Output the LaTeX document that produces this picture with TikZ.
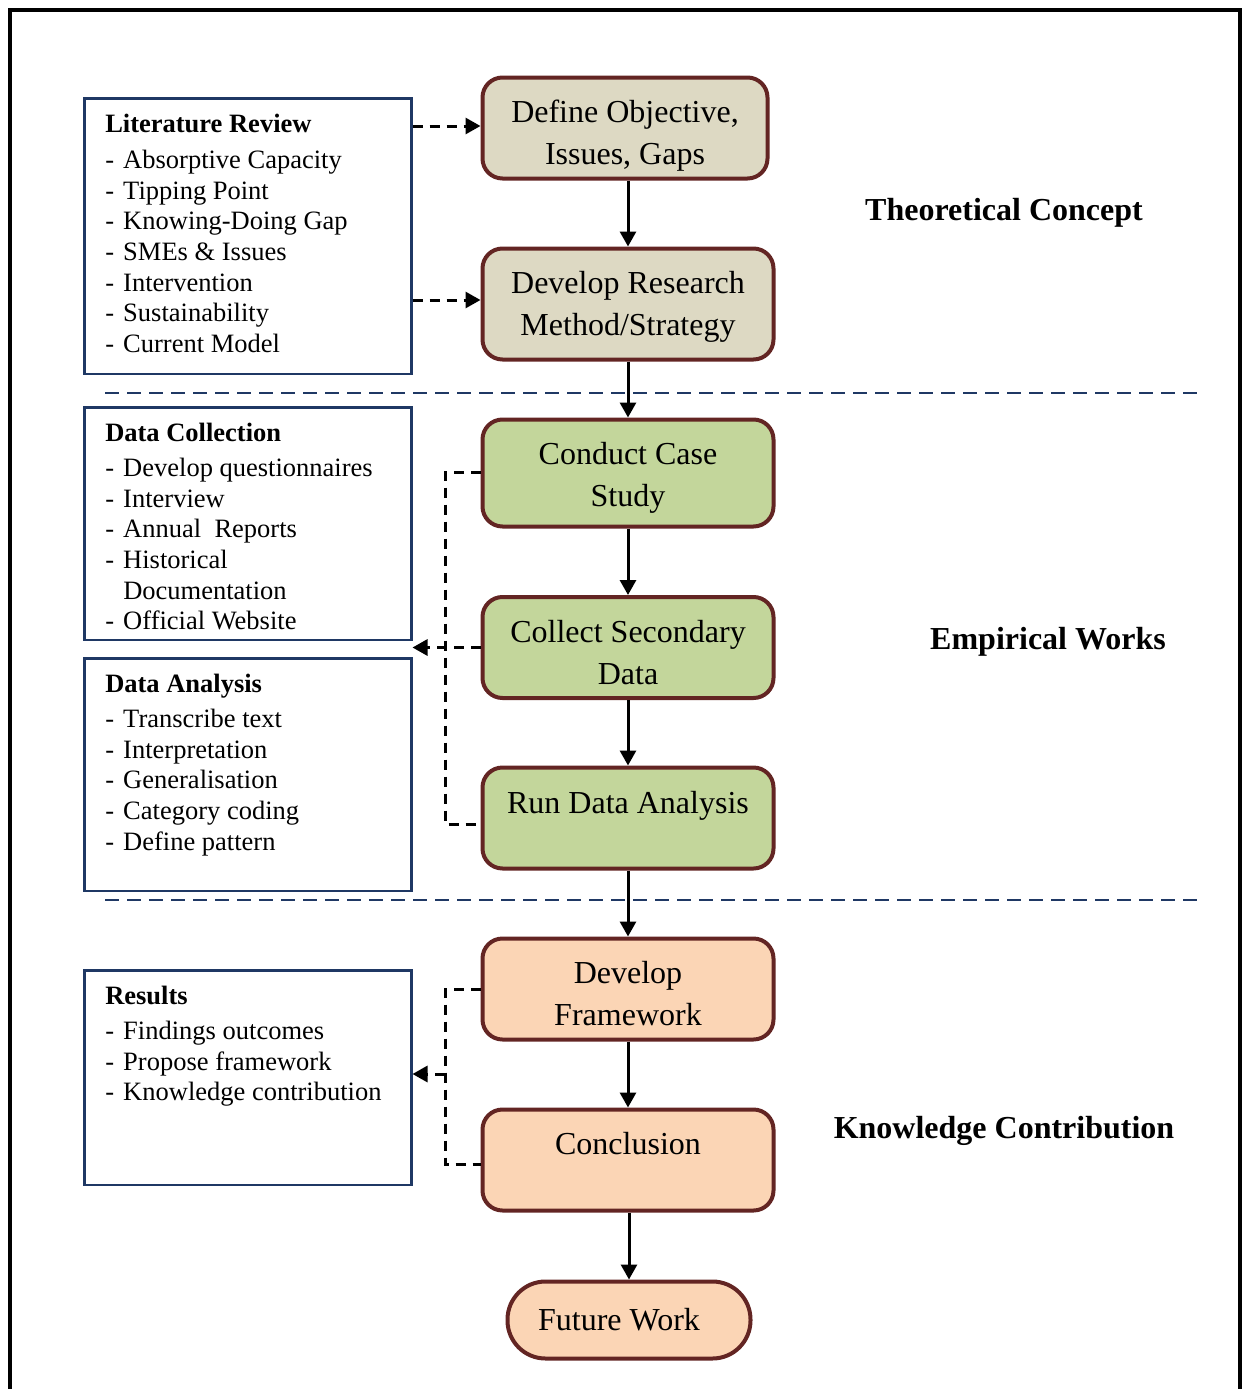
\documentclass[tikz,border=0pt]{standalone}
\usepackage{fontspec}
\setmainfont{Liberation Serif}
\usetikzlibrary{arrows.meta}
\definecolor{flowred}{HTML}{632523}
\definecolor{tanfill}{HTML}{DDD9C3}
\definecolor{greenfill}{HTML}{C3D69B}
\definecolor{peachfill}{HTML}{FBD5B5}
\definecolor{navy}{HTML}{1F3864}
% one bulleted line of a list box: dash, then the entry
\newcommand\dashitem[1]{\makebox[18pt][l]{-}#1}
% list box body: fixed size, top aligned
\newcommand\listbody[3]{\parbox[c][#1][t]{#2}{\raggedright\vspace*{16pt}#3}}
% invisible strut that sets the head room of a first line
\newcommand\headroom[1]{\rule{0pt}{#1}}

\begin{document}
\begin{tikzpicture}[x=1pt,y=-1pt,
  flow/.style={draw=flowred, line width=4pt, rounded corners=20pt, align=center,
    inner sep=0pt, font=\fontsize{32}{42}\selectfont,
    minimum width=291pt, minimum height=101pt},
  listbox/.style={draw=navy, line width=2.5pt, anchor=north west,
    inner xsep=21pt, inner ysep=0pt, font=\fontsize{26.5}{30.7}\selectfont},
  flowarrow/.style={line width=3pt, -{Triangle[length=15pt,width=16pt]}},
  linkarrow/.style={line width=3pt, dash pattern=on 10pt off 7pt,
    -{Triangle[length=15pt,width=16pt]}},
  linkline/.style={line width=3pt, dash pattern=on 10pt off 7pt},
  divider/.style={draw=navy, line width=2.5pt, dash pattern=on 14pt off 8pt},
  phase/.style={font=\fontsize{32}{38}\selectfont\bfseries}]

\useasboundingbox (0,0) rectangle (1252,1389);

% frame, open at the bottom
\draw[line width=4pt] (10,1392) -- (10,10) -- (1240,10) -- (1240,1392);

% main flow
\node[flow, fill=tanfill, minimum width=285pt] (n1) at (625,128)
  {\headroom{38pt}Define Objective,\\Issues, Gaps};
\node[flow, fill=tanfill, minimum height=111pt] (n2) at (628,304)
  {\headroom{28pt}Develop Research\\Method/Strategy};
\node[flow, fill=greenfill, minimum height=107pt] (n3) at (628,473)
  {\headroom{32pt}Conduct Case\\Study};
\node[flow, fill=greenfill] (n4) at (628,647.5)
  {\headroom{32pt}Collect Secondary\\Data};
\node[flow, fill=greenfill] (n5) at (628,818)
  {\headroom{46pt}Run Data Analysis\\\strut};
\node[flow, fill=peachfill] (n6) at (628,989)
  {\headroom{32pt}Develop\\Framework};
\node[flow, fill=peachfill] (n7) at (628,1160)
  {\headroom{44pt}Conclusion\\\strut};
\node[flow, fill=peachfill, rounded corners=38pt, minimum width=243pt,
  minimum height=77pt] (n8) at (629,1320) {Future Work\hspace*{20pt}};

\draw[flowarrow] (n1.south -| n2) -- (n2.north);
\draw[flowarrow] (n2) -- (n3);
\draw[flowarrow] (n3) -- (n4);
\draw[flowarrow] (n4) -- (n5);
\draw[flowarrow] (n5) -- (n6);
\draw[flowarrow] (n6) -- (n7);
\draw[flowarrow] (n7.south -| n8) -- (n8.north);

% list boxes
\node[listbox] (lit) at (83,97) {\listbody{275.5pt}{285pt}{%
  \textbf{Literature Review}\\[5pt]
  \dashitem{Absorptive Capacity}\\
  \dashitem{Tipping Point}\\
  \dashitem{Knowing-Doing Gap}\\
  \dashitem{SMEs \& Issues}\\
  \dashitem{Intervention}\\
  \dashitem{Sustainability}\\
  \dashitem{Current Model}}};
\node[listbox] (dc) at (83,406) {\listbody{232.5pt}{285pt}{%
  \textbf{Data Collection}\\[4pt]
  \dashitem{Develop questionnaires}\\
  \dashitem{Interview}\\
  \dashitem{Annual\ \ Reports}\\
  \dashitem{Historical}\\
  \hspace*{18pt}Documentation\\
  \dashitem{Official Website}}};
\node[listbox] (da) at (83,657) {\listbody{232.5pt}{285pt}{%
  \textbf{Data Analysis}\\[4pt]
  \dashitem{Transcribe text}\\
  \dashitem{Interpretation}\\
  \dashitem{Generalisation}\\
  \dashitem{Category coding}\\
  \dashitem{Define pattern}}};
\node[listbox] (res) at (83,969) {\listbody{214.5pt}{285pt}{%
  \textbf{Results}\\[4pt]
  \dashitem{Findings outcomes}\\
  \dashitem{Propose framework}\\
  \dashitem{Knowledge contribution}}};

% links between list boxes and the flow
\draw[linkarrow] (lit.east |- 0,126) -- (n1.west |- 0,126);
\draw[linkarrow] (lit.east |- 0,300) -- (n2.west |- 0,300);

\coordinate (ej) at (445,472);
\draw[linkline] (n3.west |- ej) -- (ej) |- (n5.west |- 0,824);
\draw[linkarrow] (n4.west) -- (n4.west -| dc.east);

\coordinate (kj) at (445,989);
\coordinate (kt) at (445,1074);
\draw[linkline] (n6.west |- kj) -- (kj) |- (n7.west |- 0,1164);
\draw[linkarrow] (kt) -- (kt -| res.east);

% phase dividers
\coordinate (d1a) at (105,393);
\coordinate (d1b) at (1197,393);
\coordinate (d2a) at (105,900);
\coordinate (d2b) at (1197,900);
\draw[divider] (d1a) -- (d1b);
\draw[divider] (d2a) -- (d2b);

% phase labels
\node[phase] (p1) at (1004,213) {Theoretical Concept};
\node[phase] (p2) at (1048,642) {Empirical Works};
\node[phase] (p3) at (1004,1131) {Knowledge Contribution};
\end{tikzpicture}
\end{document}
